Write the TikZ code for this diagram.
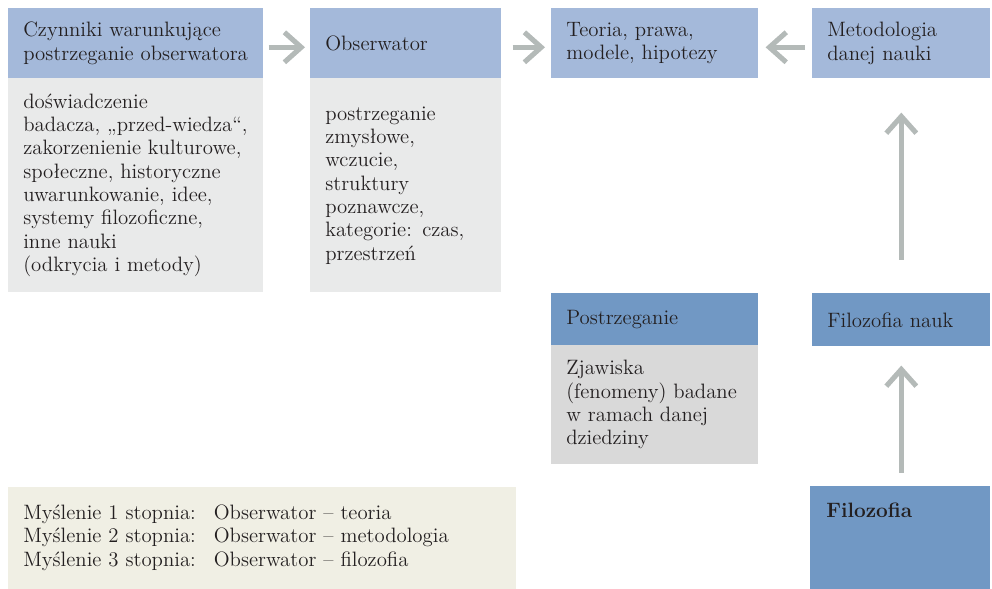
\documentclass[tikz,border=0pt]{standalone}
\usepackage{fontspec}
\usepackage{tikz}
\usetikzlibrary{arrows.meta}

\definecolor{headblue}{HTML}{A4B9DA}
\definecolor{darkblue}{HTML}{7198C4}
\definecolor{bodygray}{HTML}{E9EAEA}
\definecolor{phengray}{HTML}{D9D9D9}
\definecolor{legendbg}{HTML}{F0EFE4}
\definecolor{arrowgray}{HTML}{B4BAB8}
\definecolor{ink}{HTML}{231F20}

\begin{document}
\begin{tikzpicture}[x=0.025cm, y=-0.025cm,
    box/.style={anchor=north west, inner xsep=0.375cm, inner ysep=0pt, align=left,
      text=ink, font=\fontsize{14.8}{16.6}\selectfont},
    head/.style={box, fill=headblue, minimum height=1.75cm},
    dark/.style={box, fill=darkblue},
    arr/.style={draw=arrowgray, line width=3.6pt, -{Straight Barb[length=0.42cm, width=0.75cm]}}]
      \useasboundingbox (0,0) rectangle (992,589);

      \node[head, text width=5.625cm] (1) at (8,8){Czynniki warunkujące\\postrzeganie obserwatora};
      \node[box, fill=bodygray, text width=5.625cm, minimum height=5.35cm] (2) at (8,78){doświadczenie\\badacza, „przed-wiedza“,\\zakorzenienie kulturowe,\\społeczne, historyczne\\uwarunkowanie, idee,\\systemy filozoficzne,\\inne nauki\\(odkrycia i metody)};
      \node[head, text width=4.025cm] (3) at (310,8){Obserwator};
      \node[box, fill=bodygray, text width=4.025cm, minimum height=5.35cm] (4) at (310,78){postrzeganie\\zmysłowe,\\wczucie,\\struktury\\poznawcze,\\kategorie: czas,\\przestrzeń};
      \node[head, text width=4.425cm] (5) at (551,8){Teoria, prawa,\\modele, hipotezy};
      \node[head, text width=3.7cm] (6) at (812,8){Metodologia\\danej nauki};

      \node[dark, text width=4.425cm, minimum height=1.3cm] (7) at (551,293){Postrzeganie};
      \node[box, fill=phengray, text width=4.425cm, minimum height=2.975cm] (8) at (551,345){Zjawiska\\(fenomeny) badane\\w ramach danej\\dziedziny};
      \node[dark, text width=3.7cm, minimum height=1.325cm] (9) at (812,293){Filozofia nauk};
      \node[dark, minimum width=4.5cm, minimum height=2.575cm,
        label={[anchor=north west, inner sep=0pt, xshift=0.4cm, yshift=-0.42cm, text=ink,
          font=\bfseries\fontsize{14.8}{16.6}\selectfont]north west:Filozofia}] (10) at (810,486){};

      \node[box, fill=legendbg, text width=11.95cm, minimum height=2.55cm] (11) at (8,487){%
        \begin{tabular}{@{}l@{\hspace{0.45cm}}l@{}}
          Myślenie 1 stopnia: & Obserwator – teoria\\
          Myślenie 2 stopnia: & Obserwator – metodologia\\
          Myślenie 3 stopnia: & Obserwator – filozofia
        \end{tabular}};

      \draw[arr, shorten <=0.125cm, shorten >=0.125cm] ([yshift=-0.1cm]1.east) -- ([yshift=-0.1cm]3.west);
      \draw[arr, shorten <=0.275cm, shorten >=0.15cm] ([yshift=-0.1cm]3.east) -- ([yshift=-0.1cm]5.west);
      \draw[arr, shorten <=0.175cm, shorten >=0.175cm] ([yshift=-0.1cm]6.west) -- ([yshift=-0.1cm]5.east);
      \draw[arr, shorten <=0.825cm, shorten >=0.85cm] (9.north) -- (6.south);
      \draw[arr, shorten <=0.325cm, shorten >=0.475cm] (10.north -| 9) -- (9.south);
    \end{tikzpicture}
\end{document}
